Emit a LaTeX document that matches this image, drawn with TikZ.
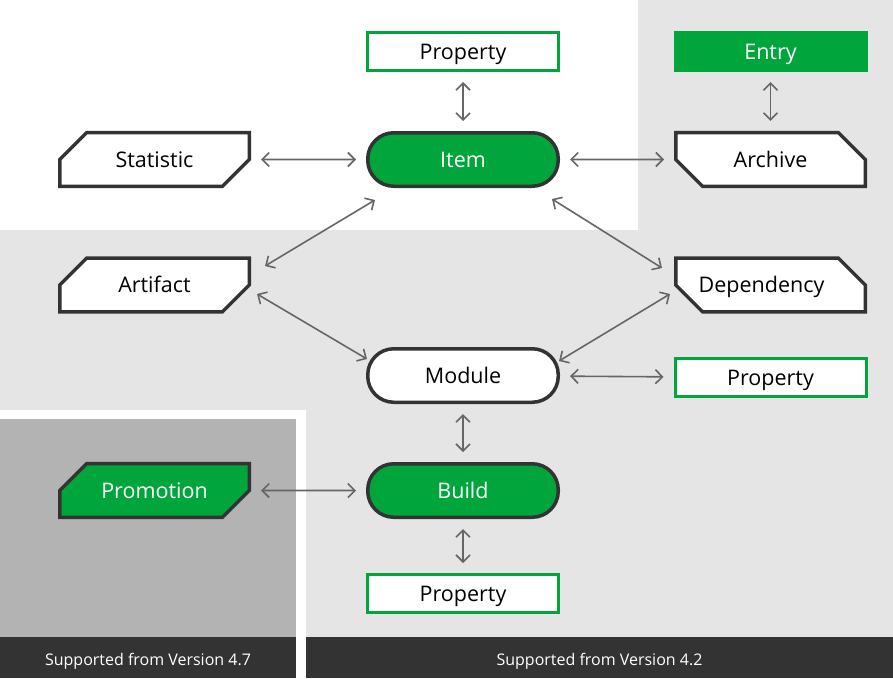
\documentclass[tikz,border=0pt]{standalone}
\usepackage{fontspec}
\setmainfont{Open Sans}
\usetikzlibrary{arrows.meta,shapes.misc}
\definecolor{jgreen}{HTML}{00A63C}
\definecolor{jdark}{HTML}{333333}
\definecolor{jlight}{HTML}{E5E5E5}
\definecolor{jmid}{HTML}{B3B3B3}
\definecolor{jarrow}{HTML}{666666}
\begin{document}
\begin{tikzpicture}[x=1pt, y=-1pt,
    every node/.style={font=\fontsize{21.5}{26}\selectfont,
        text height=15.35pt, text depth=0pt},
    pill/.style={draw=jdark, line width=3.5pt, rounded corners=26pt,
        minimum width=190.5pt, minimum height=53.5pt},
    cut/.style={chamfered rectangle, draw=jdark, line width=3.5pt, fill=white,
        chamfered rectangle sep=26pt, inner ysep=-6.9pt,
        minimum width=189.5pt, minimum height=53.5pt},
    cutnw/.style={cut, chamfered rectangle corners={north west,south east}},
    cutne/.style={cut, chamfered rectangle corners={north east,south west}},
    prop/.style={draw=jgreen, line width=3pt, fill=white,
        minimum width=191pt, minimum height=38pt},
    link/.style={jarrow, line width=1.6pt,
        {Straight Barb[length=7pt,width=14pt]}-{Straight Barb[length=7pt,width=14pt]}},
    gap/.style={shorten <=10pt, shorten >=10pt},
    caption/.style={text=white, font=\fontsize{16}{19}\selectfont, text height=11.4pt}]
    \useasboundingbox (0,0) rectangle (893,678);
    % version areas
    \fill[jlight] (0,0) rectangle (893,678);
    \fill[white] (0,0) rectangle (638,230);
    \fill[white] (0,410) rectangle (306,678);
    \fill[jmid] (0,419) rectangle (296,637);
    \fill[jdark] (0,637) rectangle (296,678);
    \fill[jdark] (306,637) rectangle (893,678);
    \node[caption] (v47) at (148,660) {Supported from Version 4.7};
    \node[caption] (v42) at (599.5,660) {Supported from Version 4.2};
    % entities
    \node[prop] (propT) at (463,51.5) {Property};
    \node[pill, fill=jgreen, text=white] (item) at (463,159.5) {Item};
    \node[cutnw] (stat) at (154.5,159.5) {Statistic};
    \node[cutne] (arch) at (770.5,159.5) {Archive};
    \node[fill=jgreen, text=white, minimum width=194pt, minimum height=41pt]
        (entry) at (770.5,51.5) {Entry};
    \node[cutnw] (art) at (154.5,285) {Artifact};
    \node[cutne, inner xsep=0pt] (dep) at (770.5,285) {Dependency\kern18pt};
    \node[pill, fill=white] (mod) at (463,375.5) {Module};
    \node[prop] (propR) at (770.5,377.5) {Property};
    \node[cutnw, fill=jgreen, text=white] (promo) at (154.5,490.5) {Promotion};
    \node[pill, fill=jgreen, text=white] (build) at (463,490.5) {Build};
    \node[prop] (propB) at (463,593.5) {Property};
    % relations
    \draw[link, gap] (propT) -- (item);
    \draw[link, gap] (stat) -- (item);
    \draw[link, gap] (item) -- (arch);
    \draw[link, gap] (entry) -- (arch);
    \draw[link] ([shift={(9,12)}]item.south west) -- ([shift={(14,-19)}]art.east);
    \draw[link] ([shift={(-8,11)}]item.south east) -- ([shift={(-12,-17)}]dep.west);
    \draw[link] ([shift={(6,9)}]art.east) -- ([shift={(1,-16.5)}]mod.west);
    \draw[link] ([shift={(-4,9)}]dep.west) -- ([shift={(-1,-14.5)}]mod.east);
    \draw[link, gap] (mod) -- (propR);
    \draw[link, gap] (mod) -- (build);
    \draw[link, gap] (promo) -- (build);
    \draw[link, gap] (build) -- (propB);
\end{tikzpicture}
\end{document}
